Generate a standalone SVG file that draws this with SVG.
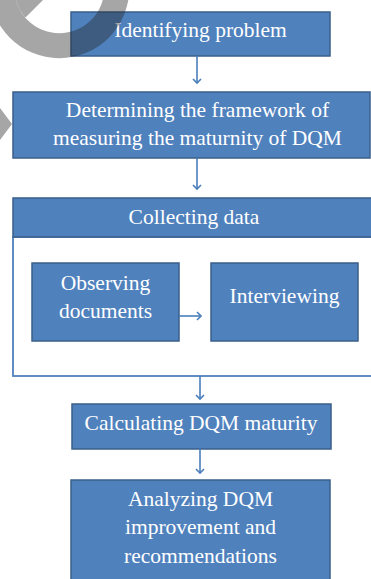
<svg xmlns="http://www.w3.org/2000/svg" width="371" height="579" viewBox="0 0 371 579">
  <style>
    .box { fill: #4f81bd; stroke: #3a5f8b; stroke-width: 1.5; }
    .frame { fill: #ffffff; stroke: #4f81bd; stroke-width: 1.8; }
    .lbl { font-family: "Liberation Serif", "Times New Roman", serif; font-size: 21.5px; fill: #ffffff; text-anchor: middle; }
    .conn { fill: none; stroke: #4a7ebb; stroke-width: 1.6; marker-end: url(#ah); }
    .mark { fill: #262626; fill-opacity: 0.41; }
  </style>
  <defs>
    <marker id="ah" markerWidth="10" markerHeight="10" refX="5" refY="5" orient="auto" markerUnits="userSpaceOnUse">
      <path d="M1,1 L5,5 L1,9" fill="none" stroke="#4a7ebb" stroke-width="1.6"/>
    </marker>
  </defs>

  <rect width="371" height="579" fill="#ffffff"/>

  <g id="identify">
    <rect class="box" x="71" y="12" width="259" height="44"/>
    <text class="lbl" x="200.5" y="37">Identifying problem</text>
  </g>

  <g id="framework">
    <rect class="box" x="13" y="92" width="357" height="66"/>
    <text class="lbl" x="197.5" y="116.5">Determining the framework of</text>
    <text class="lbl" x="197.5" y="145">measuring the maturnity of DQM</text>
  </g>

  <g id="collecting">
    <rect class="frame" x="13" y="237" width="370" height="139"/>
    <rect class="box" x="13" y="198" width="370" height="39"/>
    <text class="lbl" x="194" y="224">Collecting data</text>
  </g>

  <g id="observing">
    <rect class="box" x="32" y="263" width="147" height="78"/>
    <text class="lbl" x="105.5" y="290">Observing</text>
    <text class="lbl" x="105.5" y="318">documents</text>
  </g>

  <g id="interviewing">
    <rect class="box" x="211" y="263" width="147" height="78"/>
    <text class="lbl" x="284.5" y="303">Interviewing</text>
  </g>

  <g id="calculating">
    <rect class="box" x="72" y="404" width="259" height="45"/>
    <text class="lbl" x="201" y="430">Calculating DQM maturity</text>
  </g>

  <g id="analyzing">
    <rect class="box" x="71" y="480" width="259" height="110"/>
    <text class="lbl" x="200.5" y="506">Analyzing DQM</text>
    <text class="lbl" x="200.5" y="534">improvement and</text>
    <text class="lbl" x="200.5" y="563">recommendations</text>
  </g>

  <g id="connectors">
    <path class="conn" d="M197,56 V83"/>
    <path class="conn" d="M197,158 V189"/>
    <path class="conn" d="M179,316 H201"/>
    <path class="conn" d="M200,376 V399"/>
    <path class="conn" d="M200,449 V473"/>
  </g>

  <!-- grey circular-arrow overlay in the upper left corner -->
  <g id="overlay">
    <path class="mark" fill-rule="evenodd" d="M129.3,-11.8 A70,70 0 1 1 -10.7,-11.8 A70,70 0 1 1 129.3,-11.8 Z M104.3,-11.8 A45,45 0 1 0 14.3,-11.8 A45,45 0 1 0 104.3,-11.8 Z"/>
    <polygon class="mark" points="15.9,0 43,0 26,17 24.7,17 19.9,10 17.6,5"/>
    <polygon class="mark" points="0,108 12,124 0,140"/>
  </g>
</svg>
